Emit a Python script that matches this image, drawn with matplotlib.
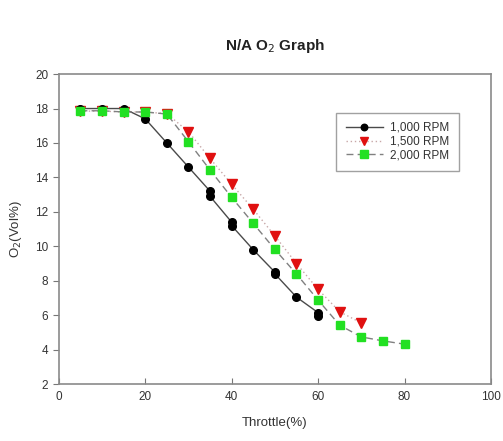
import matplotlib
matplotlib.use("Agg")
import matplotlib.pyplot as plt

# Throttle position (%) and O2 concentration (Vol%) for each engine speed
throttle_1000 = [5, 10, 15, 20, 25, 30, 35, 35, 40, 40, 45, 50, 50, 55, 60, 60]
o2_1000 = [18.0, 18.0, 18.0, 17.4, 16.0, 14.6, 13.2, 12.9, 11.4, 11.2, 9.8, 8.5, 8.4, 7.05, 6.15, 5.98]

throttle_1500 = [5, 10, 15, 20, 25, 30, 35, 40, 45, 50, 55, 60, 65, 70]
o2_1500 = [17.85, 17.85, 17.8, 17.8, 17.7, 16.65, 15.1, 13.6, 12.15, 10.6, 9.0, 7.5, 6.2, 5.55]

throttle_2000 = [5, 10, 15, 20, 25, 30, 35, 40, 45, 50, 55, 60, 65, 70, 75, 80]
o2_2000 = [17.87, 17.87, 17.8, 17.8, 17.68, 16.07, 14.43, 12.84, 11.33, 9.82, 8.39, 6.88, 5.42, 4.74, 4.51, 4.32]

x_ticks = [0, 20, 40, 60, 80, 100]
y_ticks = [2, 4, 6, 8, 10, 12, 14, 16, 18, 20]

plt.rcParams["font.family"] = ["Liberation Sans", "DejaVu Sans"]

fig = plt.figure(figsize=(5.03, 4.41), dpi=100)
ax = fig.add_axes([0.117, 0.129, 0.859, 0.703])

ax.plot(throttle_1000, o2_1000, color="#4a4a4a", lw=1.0, ls="-",
        marker="o", ms=5.5, mfc="black", mec="black", label="1,000 RPM", zorder=3)
ax.plot(throttle_1500, o2_1500, color="#c8a8a8", lw=1.0, ls=(0, (1, 2)),
        marker="v", ms=6.5, mfc="#e01010", mec="#e01010", label="1,500 RPM", zorder=2)
ax.plot(throttle_2000, o2_2000, color="#808080", lw=1.0, ls=(0, (5, 3)),
        marker="s", ms=6, mfc="#22e022", mec="#22e022", label="2,000 RPM", zorder=4)

ax.set_xlim(0, 100)
ax.set_ylim(2, 20)
ax.set_xticks(x_ticks)
ax.set_yticks(y_ticks)
ax.tick_params(axis="x", direction="in", length=4, color="#777777",
               labelsize=8.5, labelcolor="#333333", pad=5)
ax.tick_params(axis="y", direction="out", length=4, color="#777777",
               labelsize=8.5, labelcolor="#333333")
for s in ax.spines.values():
    s.set_color("#8a8a8a")
    s.set_linewidth(1.2)

ax.set_xlabel("Throttle(%)", fontsize=9.5, color="#333333", labelpad=10)
ax.set_ylabel("O$_2$(Vol%)", fontsize=9.5, color="#333333", labelpad=8)

fig.text(0.547, 0.895, "N/A O$_2$ Graph", ha="center", va="center",
         fontsize=11, fontweight="bold", color="#222222")

leg = ax.legend(loc="upper right", bbox_to_anchor=(0.94, 0.895), fontsize=8.5,
                frameon=True, fancybox=False, handlelength=3.2, markerscale=0.85,
                borderpad=0.8, labelspacing=0.15, handletextpad=0.6)
leg.get_frame().set_edgecolor("#8a8a8a")
leg.get_frame().set_linewidth(1.0)
for t in leg.get_texts():
    t.set_color("#333333")

fig.savefig("out.png", dpi=100)
